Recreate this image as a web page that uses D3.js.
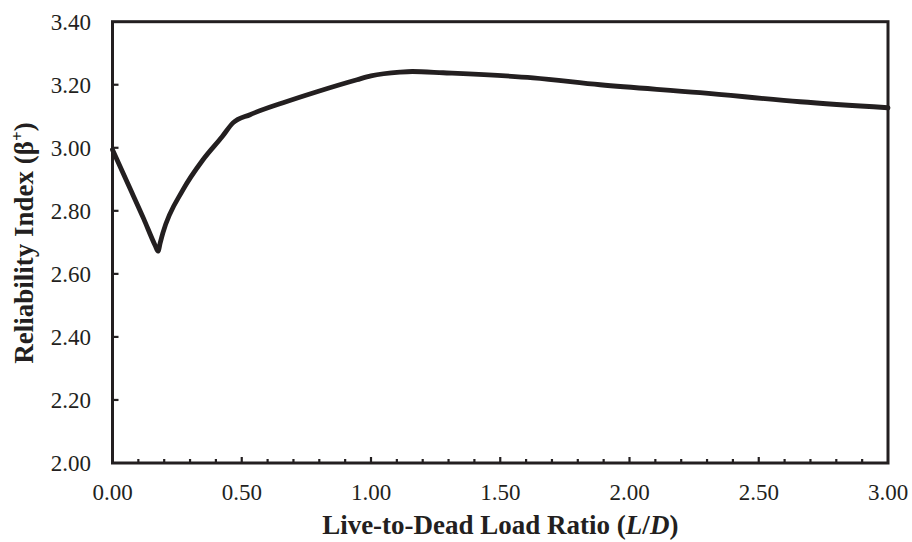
<!DOCTYPE html>
<html>
<head>
<meta charset="utf-8">
<script src="https://cdn.jsdelivr.net/npm/d3@7"></script>
<style>
  html, body { margin: 0; padding: 0; background: #fff; }
  svg { display: block; }
  text { font-family: "Liberation Serif", "Times New Roman", serif; fill: #231f20; }
</style>
</head>
<body>
<svg id="chart" width="912" height="542"></svg>
<script>
// Live-to-dead load ratio (L/D) and reliability index beta+
const ratio = [0.000, 0.060, 0.120, 0.165, 0.176, 0.185, 0.195, 0.273, 0.350, 0.424, 0.466, 0.532, 0.660, 0.791, 0.946, 1.000, 1.112, 1.160, 1.279, 1.627, 1.886, 2.273, 2.660, 3.000];
const beta  = [2.994, 2.885, 2.776, 2.690, 2.672, 2.700, 2.730, 2.867, 2.962, 3.035, 3.079, 3.105, 3.143, 3.178, 3.216, 3.228, 3.240, 3.242, 3.238, 3.222, 3.200, 3.175, 3.146, 3.127];

const xMajorTicks = [0, 0.5, 1.0, 1.5, 2.0, 2.5, 3.0];
const xMinorTicks = d3.range(0, 3.0001, 0.1);
const yTicks = [2.0, 2.2, 2.4, 2.6, 2.8, 3.0, 3.2, 3.4];

const xTitle = ["Live-to-Dead Load Ratio (", "L", "/", "D", ")"];
const yTitle = "Reliability Index (β";

const svg = d3.select("#chart");
const ink = "#231f20";

const plotLeft = 112.5, plotRight = 888, plotTop = 21.7, plotBottom = 463;
const x = d3.scaleLinear().domain([0, 3]).range([plotLeft, plotRight]);
const y = d3.scaleLinear().domain([2.0, 3.4]).range([plotBottom, plotTop]);

// Inward tick marks along the bottom axis (minor every 0.1, longer at 0.5)
svg.append("g").selectAll("line")
  .data(xMinorTicks.slice(1, -1))
  .join("line")
  .attr("x1", d => x(d)).attr("x2", d => x(d))
  .attr("y1", plotBottom)
  .attr("y2", d => Math.abs(d * 2 - Math.round(d * 2)) < 1e-6 ? plotBottom - 6 : plotBottom - 4)
  .attr("stroke", ink).attr("stroke-width", 2.2);

// Inward tick marks along the left axis
svg.append("g").selectAll("line")
  .data(yTicks.slice(1, -1))
  .join("line")
  .attr("x1", plotLeft).attr("x2", plotLeft + 6)
  .attr("y1", d => y(d)).attr("y2", d => y(d))
  .attr("stroke", ink).attr("stroke-width", 2.2);

// Plot frame
svg.append("rect")
  .attr("x", plotLeft).attr("y", plotTop)
  .attr("width", plotRight - plotLeft).attr("height", plotBottom - plotTop)
  .attr("fill", "none").attr("stroke", ink).attr("stroke-width", 3);

// Tick labels
svg.append("g").selectAll("text")
  .data(xMajorTicks)
  .join("text")
  .attr("x", d => x(d)).attr("y", 500)
  .attr("text-anchor", "middle")
  .attr("font-size", 23)
  .text(d => d.toFixed(2));

svg.append("g").selectAll("text")
  .data(yTicks)
  .join("text")
  .attr("x", 91).attr("y", d => y(d))
  .attr("dy", "0.35em")
  .attr("text-anchor", "end")
  .attr("font-size", 23)
  .text(d => d.toFixed(2));

// Curve
const line = d3.line()
  .x((d, i) => x(ratio[i]))
  .y(d => y(d))
  .curve(d3.curveMonotoneX);

svg.append("path")
  .datum(beta)
  .attr("d", line)
  .attr("fill", "none")
  .attr("stroke", ink)
  .attr("stroke-width", 4.8)
  .attr("stroke-linejoin", "round")
  .attr("stroke-linecap", "round");

// Axis titles
const xt = svg.append("text")
  .attr("x", (plotLeft + plotRight) / 2).attr("y", 534)
  .attr("text-anchor", "middle")
  .attr("font-size", 27).attr("font-weight", "bold");
xt.append("tspan").text(xTitle[0]);
xt.append("tspan").attr("font-style", "italic").text(xTitle[1]);
xt.append("tspan").text(xTitle[2]);
xt.append("tspan").attr("font-style", "italic").text(xTitle[3]);
xt.append("tspan").text(xTitle[4]);

const yt = svg.append("text")
  .attr("transform", `translate(33,243) rotate(-90)`)
  .attr("text-anchor", "middle")
  .attr("font-size", 27).attr("font-weight", "bold");
yt.append("tspan").text(yTitle);
yt.append("tspan").attr("font-size", 17).attr("dy", -10).text("+");
yt.append("tspan").attr("dy", 10).text(")");
</script>
</body>
</html>
